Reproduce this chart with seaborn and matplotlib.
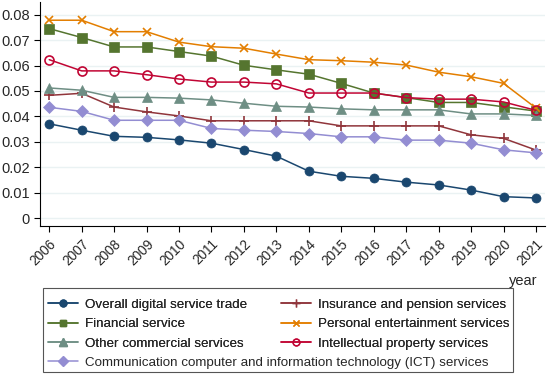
"""Digital service trade indices by sector, 2006-2021"""

import matplotlib.pyplot as plt
import numpy as np
import pandas as pd
import seaborn as sns
from matplotlib.lines import Line2D
from matplotlib.patches import Rectangle

years = list(range(2006, 2022))

overall = [0.0371, 0.0346, 0.0322, 0.0318, 0.0308, 0.0295, 0.0270, 0.0244,
           0.0185, 0.0165, 0.0157, 0.0142, 0.0131, 0.0111, 0.0085, 0.0080]
insurance = [0.0483, 0.0491, 0.0437, 0.0418, 0.0402, 0.0383, 0.0383, 0.0383,
             0.0383, 0.0363, 0.0363, 0.0363, 0.0363, 0.0328, 0.0314, 0.0268]
financial = [0.0745, 0.0710, 0.0673, 0.0673, 0.0655, 0.0637, 0.0601, 0.0583,
             0.0566, 0.0530, 0.0492, 0.0474, 0.0455, 0.0455, 0.0438, 0.0421]
personal = [0.0778, 0.0778, 0.0733, 0.0733, 0.0692, 0.0674, 0.0668, 0.0645,
            0.0623, 0.0619, 0.0613, 0.0602, 0.0574, 0.0556, 0.0530, 0.0433]
other = [0.0512, 0.0503, 0.0475, 0.0475, 0.0472, 0.0465, 0.0452, 0.0440,
         0.0437, 0.0430, 0.0426, 0.0426, 0.0426, 0.0410, 0.0410, 0.0404]
intellectual = [0.0623, 0.0579, 0.0579, 0.0564, 0.0547, 0.0535, 0.0535, 0.0528,
                0.0492, 0.0492, 0.0492, 0.0474, 0.0468, 0.0468, 0.0457, 0.0424]
ict = [0.0436, 0.0420, 0.0385, 0.0385, 0.0385, 0.0353, 0.0346, 0.0341,
       0.0333, 0.0320, 0.0320, 0.0307, 0.0307, 0.0295, 0.0269, 0.0257]

names = [
    "Overall digital service trade",
    "Insurance and pension services",
    "Financial service",
    "Personal entertainment services",
    "Other commercial services",
    "Intellectual property services",
    "Communication computer and information technology (ICT) services",
]
values = [overall, insurance, financial, personal, other, intellectual, ict]

y_ticks = [0, 0.01, 0.02, 0.03, 0.04, 0.05, 0.06, 0.07, 0.08]
y_tick_labels = ["0", "0.01", "0.02", "0.03", "0.04", "0.05", "0.06", "0.07", "0.08"]

# stata s2color style
styles = {
    names[0]: dict(color="#1a476f", marker="o", ms=6.5, mfc="#1a476f"),
    names[1]: dict(color="#90353b", marker="+", ms=7, mfc="#90353b"),
    names[2]: dict(color="#55752f", marker="s", ms=6.5, mfc="#55752f"),
    names[3]: dict(color="#e37e00", marker="x", ms=6, mfc="#e37e00"),
    names[4]: dict(color="#6e8e84", marker="^", ms=7, mfc="#6e8e84"),
    names[5]: dict(color="#c10534", marker="o", ms=6.5, mfc="none"),
    names[6]: dict(color="#938dd2", marker="D", ms=6.5, mfc="#938dd2"),
}

df = pd.DataFrame(
    [(y, n, v) for n, vals in zip(names, values) for y, v in zip(years, vals)],
    columns=["year", "series", "value"],
)

sns.set_style("white")
plt.rcParams["font.family"] = ["Liberation Sans", "DejaVu Sans"]

fig = plt.figure(figsize=(5.5, 3.77), dpi=100)
ax = fig.add_axes([0.073, 0.40, 0.918, 0.595])

for n in names:
    st = styles[n]
    sns.lineplot(
        data=df[df["series"] == n], x="year", y="value", ax=ax,
        color=st["color"], marker=st["marker"], markersize=st["ms"],
        markerfacecolor=st["mfc"], markeredgecolor=st["color"],
        markeredgewidth=1.2 if st["mfc"] == "none" or st["marker"] in "+x" else 0.5,
        linewidth=1.1, legend=False,
    )

ax.set_xlim(2005.72, 2021.28)
ax.set_ylim(-0.0031, 0.085)
ax.set_yticks(y_ticks)
ax.set_yticklabels(y_tick_labels, fontsize=10.5)
ax.set_xticks(years)
ax.set_xticklabels([str(y) for y in years], rotation=45, ha="right",
                   rotation_mode="anchor", fontsize=9.8)
ax.tick_params(axis="both", direction="out", length=4, width=0.8,
               color="black", bottom=True, left=True)
ax.grid(axis="y", color="#eaf2f3", linewidth=1)
ax.set_axisbelow(True)
for side in ["top", "right"]:
    ax.spines[side].set_visible(False)
for side in ["left", "bottom"]:
    ax.spines[side].set_color("black")
    ax.spines[side].set_linewidth(0.8)
ax.set_xlabel("")
ax.set_ylabel("")

fig.text(537 / 550, 1 - 281 / 377, "year", ha="right", va="center", fontsize=10.5)


def handle(n):
    st = styles[n]
    return Line2D([], [], color=st["color"], marker=st["marker"], markersize=st["ms"] * 0.75,
                  markerfacecolor=st["mfc"], markeredgecolor=st["color"], linewidth=1.1)


# legend frame
fig.patches.append(Rectangle((43 / 550, 1 - 372 / 377), 470 / 550, 84 / 377,
                             transform=fig.transFigure, facecolor="white",
                             edgecolor="#555555", linewidth=0.8))

order = [names[0], names[2], names[4], names[1], names[3], names[5]]
leg = fig.legend([handle(n) for n in order], order, ncol=2, frameon=False,
                 loc="upper left", bbox_to_anchor=(43 / 550, 1 - 293 / 377),
                 fontsize=9.6, handlelength=2.25, handletextpad=0.5,
                 columnspacing=2.55, labelspacing=0.55, borderaxespad=0)
leg2 = fig.legend([handle(names[6])], [names[6]], frameon=False,
                  loc="upper left", bbox_to_anchor=(43 / 550, 1 - 351 / 377),
                  fontsize=9.6, handlelength=2.25, handletextpad=0.5, borderaxespad=0)
fig.add_artist(leg)

fig.savefig("out.png", dpi=100)
